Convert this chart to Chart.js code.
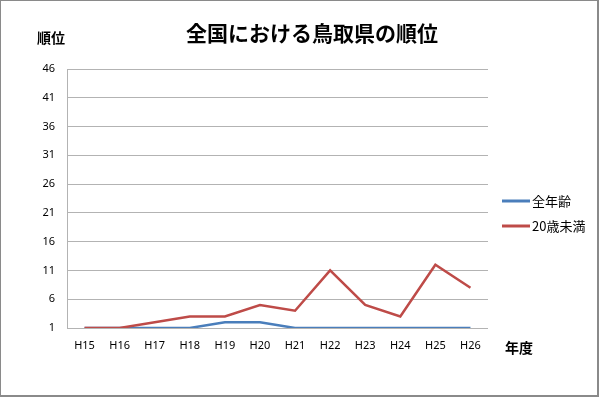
<!DOCTYPE html>
<html>
<head>
<meta charset="utf-8">
<script src="https://cdn.jsdelivr.net/npm/chart.js@4.4.1/dist/chart.umd.min.js"></script>
<style>
  html, body { margin: 0; padding: 0; background: #fff; }
  #wrap { width: 600px; height: 397px; position: relative; }
</style>
</head>
<body>
<div id="wrap"><canvas id="rankChart" width="600" height="397"></canvas></div>
<script>
const years = ['H15', 'H16', 'H17', 'H18', 'H19', 'H20', 'H21', 'H22', 'H23', 'H24', 'H25', 'H26'];
const allAges = [1, 1, 1, 1, 2, 2, 1, 1, 1, 1, 1, 1];
const under20 = [1, 1, 2, 3, 3, 5, 4, 11, 5, 3, 12, 8];
const rankTicks = [1, 6, 11, 16, 21, 26, 31, 36, 41, 46];

const seriesNames = ['全年齢', '20歳未満'];
const seriesColors = ['#4a7ebb', '#be4b48'];

const JP = '"Noto Sans CJK JP", "Noto Sans", sans-serif';
const TICK_FONT = '"Noto Sans", "Open Sans", sans-serif';

// title, axis captions, legend and border drawn by hand to match the Excel layout
const decorations = {
    id: 'decorations',
    afterDraw: (chart) => {
        const ctx = chart.ctx;
        ctx.save();

        ctx.strokeStyle = '#8a8a8a';
        ctx.lineWidth = 2;
        ctx.strokeRect(0, 0, 598, 396);

        ctx.fillStyle = '#000';
        ctx.textBaseline = 'middle';
        ctx.textAlign = 'center';
        ctx.font = 'bold 21px ' + JP;
        ctx.fillText('全国における鳥取県の順位', 312, 33);

        ctx.textAlign = 'left';
        ctx.font = 'bold 14px ' + JP;
        ctx.fillText('順位', 37, 38);
        ctx.fillText('年度', 505, 348);

        ctx.font = '13px ' + JP;
        chart.data.datasets.forEach((ds, i) => {
            const y = 201 + i * 25;
            ctx.strokeStyle = ds.borderColor;
            ctx.lineWidth = 3;
            ctx.beginPath();
            ctx.moveTo(502, y);
            ctx.lineTo(530, y);
            ctx.stroke();
            ctx.fillStyle = '#000';
            ctx.fillText(ds.label, 532, y);
        });

        ctx.restore();
    }
};

new Chart(document.getElementById('rankChart').getContext('2d'), {
    type: 'line',
    data: {
        labels: years,
        datasets: [
            {
                label: seriesNames[0],
                data: allAges,
                borderColor: seriesColors[0],
                backgroundColor: seriesColors[0],
                borderWidth: 2.5,
                pointRadius: 0,
                tension: 0,
                order: 1
            },
            {
                label: seriesNames[1],
                data: under20,
                borderColor: seriesColors[1],
                backgroundColor: seriesColors[1],
                borderWidth: 2.5,
                pointRadius: 0,
                tension: 0,
                order: 0
            }
        ]
    },
    options: {
        responsive: false,
        animation: false,
        events: [],
        layout: {
            padding: { left: 0, top: 69, right: 112, bottom: 0 }
        },
        plugins: {
            legend: { display: false },
            title: { display: false },
            tooltip: { enabled: false }
        },
        scales: {
            x: {
                offset: true,
                grid: { display: false, drawTicks: false },
                border: { display: false },
                ticks: {
                    color: '#000',
                    font: { family: TICK_FONT, size: 11 },
                    padding: 11,
                    maxRotation: 0
                },
                afterFit: (scale) => { scale.height = 69; }
            },
            y: {
                min: rankTicks[0],
                max: rankTicks[rankTicks.length - 1],
                afterBuildTicks: (scale) => {
                    scale.ticks = rankTicks.map(v => ({ value: v }));
                },
                grid: { color: '#b3b3b3', lineWidth: 1, drawTicks: false },
                border: { display: true, color: '#b3b3b3', width: 1 },
                ticks: {
                    color: '#000',
                    font: { family: TICK_FONT, size: 11 },
                    padding: 12
                },
                afterFit: (scale) => { scale.width = 67; }
            }
        }
    },
    plugins: [decorations]
});
</script>
</body>
</html>
